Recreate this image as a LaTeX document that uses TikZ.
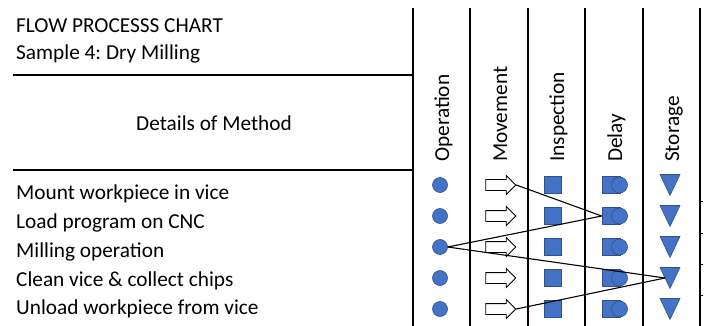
\documentclass[tikz,border=0pt]{standalone}
\usepackage{fontspec}
\setmainfont{Carlito}
\usetikzlibrary{shapes.arrows,calc}
\definecolor{symfill}{HTML}{4472C4}
\definecolor{symedge}{HTML}{2F528F}
\frenchspacing
\begin{document}
\begin{tikzpicture}[x=1pt,y=-1pt,
 grid/.style={line width=1.6pt},
 conn/.style={line width=1.1pt},
 txt/.style={font=\fontsize{21.3}{25}\selectfont, inner sep=0pt, anchor=base west},
 hdr/.style={txt, rotate=90},
 opsym/.style={circle, fill=symfill, draw=symedge, line width=0.6pt, minimum size=15pt, inner sep=0pt},
 inspsym/.style={rectangle, fill=symfill, draw=symedge, line width=0.6pt, minimum size=17pt, inner sep=0pt},
 delsym/.style={rectangle, fill=symfill, draw=symedge, line width=0.6pt, minimum width=18pt, minimum height=17pt, inner sep=0pt},
 delcirc/.style={circle, fill=symfill, draw=symedge, line width=0.6pt, minimum size=16pt, inner sep=0pt},
 stsym/.style={fill=symfill, draw=symedge, line width=0.6pt},
 mvsym/.style={single arrow, draw=black, fill=white, line width=0.8pt, minimum height=30pt, inner xsep=0pt, inner ysep=5pt, single arrow head extend=4pt, single arrow head indent=0pt},
]
\useasboundingbox (0,0) rectangle (707,326);
% grid
\foreach \x in {413,470,528,585,643,700} \draw[grid] (\x,8) -- (\x,326);
\draw[grid] (13,75) -- (413,75);
\draw[grid] (13,170) -- (413,170);
\foreach \y in {201,233,264,295} \draw[line width=0.6pt] (700,\y) -- (703,\y);
% title texts
\node[txt] (title) at (16,33) {FLOW PROCESSS CHART};
\node[txt] (sample) at (16,60) {Sample 4: Dry Milling};
\node[font=\fontsize{21.3}{25}\selectfont, inner sep=0pt, anchor=base] (details) at (214,131) {Details of Method};
% headers
\node[hdr] (hop) at (449,162) {Operation};
\node[hdr] (hmv) at (507,162) {Movement};
\node[hdr] (hin) at (564,162) {Inspection};
\node[hdr] (hde) at (622,162) {Delay};
\node[hdr] (hst) at (679,162) {Storage};
% step texts
\node[txt] (s1) at (16,200) {Mount workpiece in vice};
\node[txt] (s2) at (16,228.5) {Load program on CNC};
\node[txt] (s3) at (16,257) {Milling operation};
\node[txt] (s4) at (16,286) {Clean vice \& collect chips};
\node[txt] (s5) at (16,314) {Unload workpiece from vice};
% symbols
\foreach \i/\y in {1/185,2/216,3/247,4/278,5/309} {
  \node[opsym] (o\i) at (440,\y) {};
  \node[mvsym] (m\i) at (498,\y) {};
  \node[inspsym] (i\i) at (552.5,\y) {};
  \node[delsym] (d\i) at (611,\y) {};
  \node[delcirc] (dc\i) at (619.5,\y) {};
  \coordinate (t\i) at (670,\y);
  \draw[stsym] ($(t\i)+(-10,-10.5)$) -- ($(t\i)+(10,-10.5)$) -- ($(t\i)+(0,10.5)$) -- cycle;
}
\coordinate (t4in) at ($(t4)+(-5,0)$);
% connectors
\draw[conn] (m1.tip) -- (d2.west);
\draw[conn] (d2.west) -- (o3.east);
\draw[conn] (o3.east) -- (t4in);
\draw[conn] (t4in) -- (m5.tip);
\end{tikzpicture}
\end{document}
